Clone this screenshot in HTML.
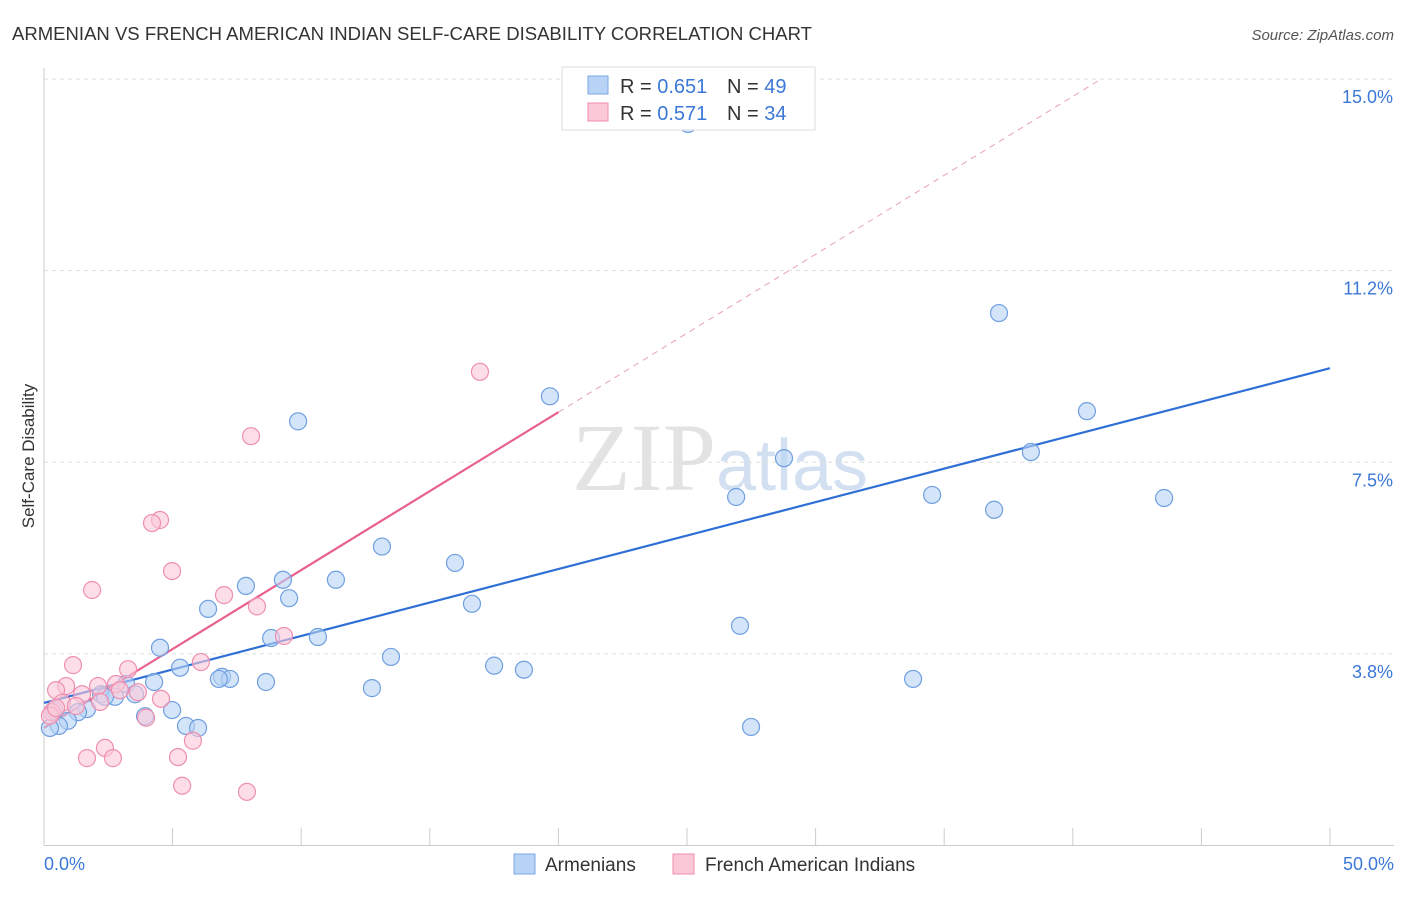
<!DOCTYPE html>
<html><head><meta charset="utf-8"><style>
body{margin:0;background:#fff;font-family:"Liberation Sans",sans-serif;}
</style></head><body>
<svg id="chart" width="1406" height="892" xmlns="http://www.w3.org/2000/svg" font-family="Liberation Sans, sans-serif">
<text x="12" y="40" font-size="18" fill="#333" textLength="800" lengthAdjust="spacingAndGlyphs">ARMENIAN VS FRENCH AMERICAN INDIAN SELF-CARE DISABILITY CORRELATION CHART</text>
<text x="1394" y="40" font-size="15" fill="#555" text-anchor="end" font-style="italic">Source: ZipAtlas.com</text>
<text x="720" y="490" font-size="96" text-anchor="middle" fill="#ddd" opacity="0.8"><tspan font-family="Liberation Serif, serif">ZIP</tspan><tspan fill="#c9d9ef" font-size="72">atlas</tspan></text>
<text transform="translate(34,456) rotate(-90)" font-size="17" fill="#333" text-anchor="middle">Self-Care Disability</text>
<g id="grid"></g><g id="axes"></g><g id="lines"></g><g id="pts"></g>
<g>
<rect x="562" y="67" width="253" height="63" fill="#fff" stroke="#ddd"/>
<rect x="588" y="76" width="20" height="18" fill="#b8d3f5" stroke="#7aa8e6"/>
<rect x="588" y="103" width="20" height="18" fill="#fbc8d8" stroke="#f08cad"/>
<text x="620" y="93" font-size="20" fill="#333">R = <tspan fill="#3b78d8">0.651</tspan></text>
<text x="727" y="93" font-size="20" fill="#333">N = <tspan fill="#3b78d8">49</tspan></text>
<text x="620" y="120" font-size="20" fill="#333">R = <tspan fill="#3b78d8">0.571</tspan></text>
<text x="727" y="120" font-size="20" fill="#333">N = <tspan fill="#3b78d8">34</tspan></text>
</g>
<g>
<rect x="514" y="854" width="21" height="20" fill="#b8d3f5" stroke="#7aa8e6"/>
<text x="545" y="871" font-size="19" fill="#333">Armenians</text>
<rect x="673" y="854" width="21" height="20" fill="#fbc8d8" stroke="#f08cad"/>
<text x="705" y="871" font-size="19" fill="#333">French American Indians</text>
</g>
</svg>
<script>
const blueX=[25.04,37.13,40.55,19.67,9.88,28.77,38.37,26.91,34.53,43.55,36.94,13.14,15.98,11.35,9.29,7.85,9.53,16.64,6.38,27.06,10.65,8.83,4.51,13.49,5.29,17.50,18.66,6.92,7.23,6.80,8.63,33.79,4.28,12.75,3.19,3.54,2.22,2.76,2.37,4.98,1.67,1.32,3.93,0.39,0.93,5.52,5.99,27.49,0.58,0.23];
const blueY=[14.12,10.42,8.50,8.79,8.30,7.58,7.70,6.82,6.86,6.80,6.57,5.85,5.53,5.20,5.20,5.08,4.84,4.73,4.63,4.30,4.08,4.06,3.87,3.69,3.48,3.52,3.44,3.30,3.26,3.26,3.20,3.26,3.20,3.08,3.16,2.96,2.96,2.91,2.91,2.65,2.67,2.61,2.53,2.65,2.44,2.34,2.30,2.32,2.34,2.30];
const pinkX=[16.95,8.05,4.51,4.20,4.98,1.87,7.00,8.28,9.33,6.10,1.13,3.27,2.80,0.86,2.10,0.47,3.65,1.48,4.55,2.18,0.70,1.24,0.31,3.97,2.37,1.67,2.68,5.79,5.21,5.37,7.89,0.23,0.47,2.95];
const pinkY=[9.27,8.01,6.37,6.31,5.37,5.00,4.90,4.68,4.10,3.59,3.53,3.45,3.16,3.12,3.12,3.04,3.00,2.96,2.87,2.81,2.79,2.73,2.61,2.50,1.91,1.71,1.71,2.05,1.73,1.17,1.05,2.54,2.69,3.04];
const yTicks=[3.75,7.5,11.25,15];
const yTickLabels=["3.8%","7.5%","11.2%","15.0%"];
const xTickLabels=["0.0%","50.0%"];
const blueTrend=[2.79,9.34];
const pinkTrend=[2.30,0.309];
const NS="http://www.w3.org/2000/svg";
const sx=v=>44+v*25.72, sy=v=>845.5-v*51.1;
function mk(p,t,a){const e=document.createElementNS(NS,t);for(const k in a)e.setAttribute(k,a[k]);document.getElementById(p).appendChild(e);return e;}
yTicks.forEach((t,i)=>{
 const g=mk('grid','line',{x1:44,x2:1394,y1:sy(t),y2:sy(t),stroke:'#ddd','stroke-dasharray':'4,4'});
 
 
 const l=mk('axes','text',{x:1393,y:sy(t)+24,'font-size':18,fill:'#3b78d8','text-anchor':'end'});
 l.textContent=yTickLabels[i];
 
 
});
const ax=mk('axes','line',{x1:44,x2:1394,y1:845.5,y2:845.5,stroke:'#ccc'});


const ay=mk('axes','line',{x1:44,x2:44,y1:68,y2:845.5,stroke:'#ccc'});


for(let i=0;i<=10;i++){const t=mk('axes','line',{x1:sx(i*5),x2:sx(i*5),y1:828,y2:845.5,stroke:'#ccc'});
 
 }
[[0,'start',44],[50,'end',1394]].forEach((d,i)=>{const l=mk('axes','text',{x:d[2],y:870,'font-size':18,fill:'#3b78d8','text-anchor':d[1]});
 l.textContent=xTickLabels[i];
 
 });
const bl=mk('lines','line',{x1:sx(0),y1:sy(blueTrend[0]),x2:sx(50),y2:sy(blueTrend[1]),stroke:'#2f6fd6','stroke-width':2.2});


const pd=mk('lines','line',{x1:sx(20),y1:sy(pinkTrend[0]+pinkTrend[1]*20),x2:sx(41.06),y2:sy(pinkTrend[0]+pinkTrend[1]*41.06),stroke:'#e8a0b8','stroke-width':1,'stroke-dasharray':'6,5'});


const pl=mk('lines','line',{x1:sx(0),y1:sy(pinkTrend[0]),x2:sx(20),y2:sy(pinkTrend[0]+pinkTrend[1]*20),stroke:'#e8608e','stroke-width':2.2});


blueX.forEach((x,i)=>{const c=mk('pts','circle',{cx:sx(x),cy:sy(blueY[i]),r:8.5,fill:'#b8d3f5','fill-opacity':0.6,stroke:'#6f9fe0','stroke-width':1.2});
 
 });
pinkX.forEach((x,i)=>{const c=mk('pts','circle',{cx:sx(x),cy:sy(pinkY[i]),r:8.5,fill:'#fbc8d8','fill-opacity':0.6,stroke:'#ee8fb0','stroke-width':1.2});
 
 });
</script>
</body></html>
